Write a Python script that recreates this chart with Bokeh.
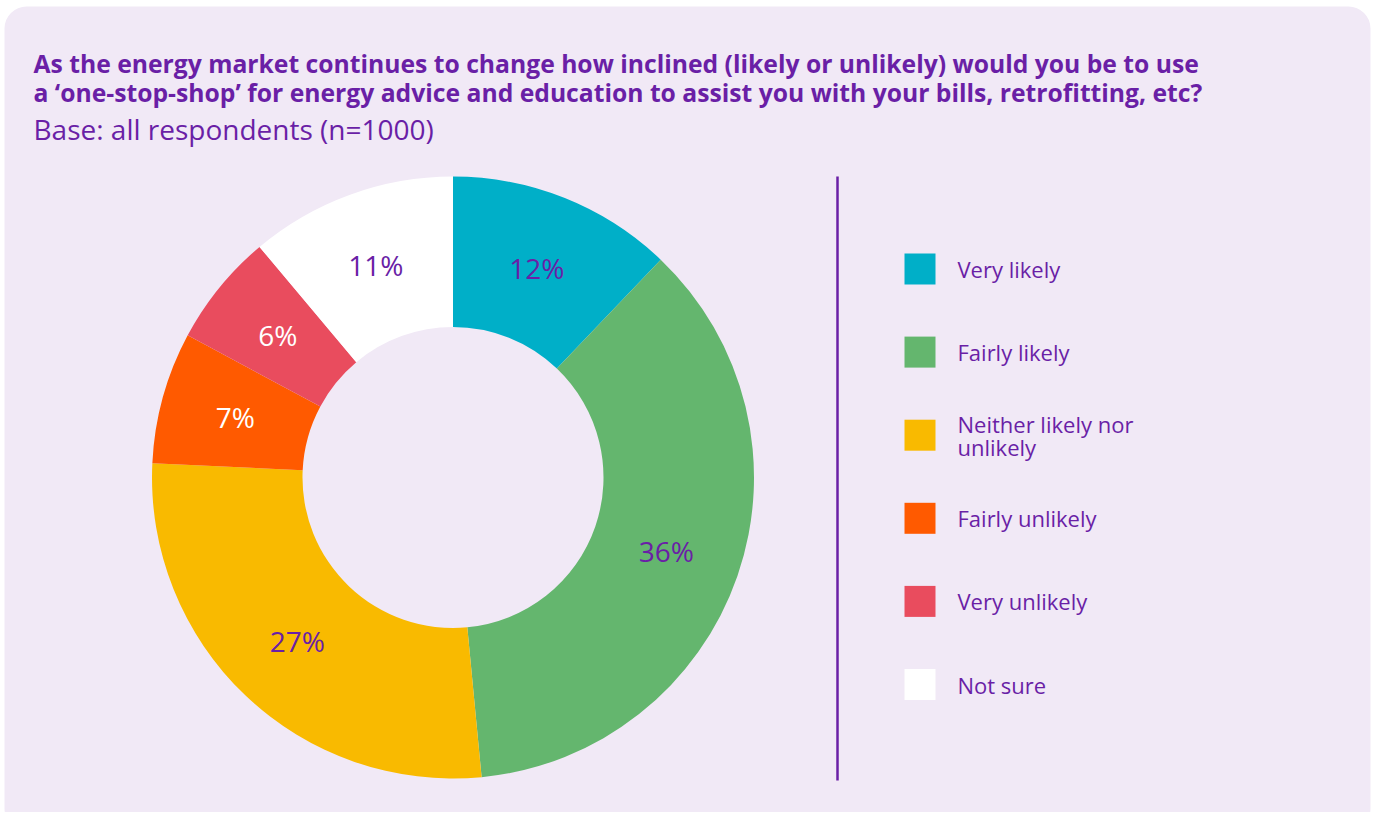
import math
from bokeh.plotting import figure
from bokeh.models import Range1d, BoxAnnotation, ColumnDataSource
from bokeh.core.properties import value
from bokeh.embed import file_html
from bokeh.resources import INLINE

# ---- data ----
categories = ["Very likely", "Fairly likely", "Neither likely nor\nunlikely",
              "Fairly unlikely", "Very unlikely", "Not sure"]
percents = [12, 36, 27, 7, 6, 11]
colors = ["#00AFC8", "#64B66E", "#F9BA00", "#FF5A00", "#E94C5E", "#FFFFFF"]
label_colors = ["#6A1FA6", "#6A1FA6", "#6A1FA6", "#FFFFFF", "#FFFFFF", "#6A1FA6"]

title_lines = [
    "As the energy market continues to change how inclined (likely or unlikely) would you be to use",
    "a \u2018one-stop-shop\u2019 for energy advice and education to assist you with your bills, retrofitting, etc?",
]
subtitle = "Base: all respondents (n=1000)"

PURPLE = "#6A1FA6"
PANEL = "#F1E9F6"
FONT = "Open Sans"

W, H = 1372, 812
p = figure(width=W, height=H, output_backend="svg", toolbar_location=None,
           x_range=Range1d(0, W), y_range=Range1d(0, H), min_border=0)
p.axis.visible = False
p.grid.visible = False
p.outline_line_color = None
p.background_fill_color = "#FFFFFF"
p.border_fill_color = "#FFFFFF"


def fy(v):
    return H - v


# rounded panel
p.add_layout(BoxAnnotation(left=4, right=1370, bottom=fy(830), top=fy(6),
                           fill_color=PANEL, fill_alpha=1.0, line_color=None,
                           border_radius=22, level="underlay"))

# ---- donut ----
cx, cy = 452.5, fy(477)
r_in, r_out = 150.5, 301
total = sum(percents)
starts, ends, mids = [], [], []
cum = 0.0
for v in percents:
    a0 = math.pi / 2 - 2 * math.pi * cum / total
    cum += v
    a1 = math.pi / 2 - 2 * math.pi * cum / total
    starts.append(a0)
    ends.append(a1)
    mids.append((a0 + a1) / 2)

src = ColumnDataSource(dict(start=starts, end=ends, color=colors))
p.annular_wedge(x=cx, y=cy, inner_radius=r_in, outer_radius=r_out,
                start_angle="start", end_angle="end", direction="clock",
                fill_color="color", line_color=None, source=src)

r_lab = (r_in + r_out) / 2
lab_src = ColumnDataSource(dict(
    x=[cx + r_lab * math.cos(m) for m in mids],
    y=[cy + r_lab * math.sin(m) for m in mids],
    t=[f"{v}%" for v in percents],
    c=label_colors,
))
p.text(x="x", y="y", text="t", text_color="c", source=lab_src,
       text_font=value(FONT), text_font_size="28px",
       text_align="center", text_baseline="middle")

# ---- separator line ----
p.segment(x0=837, y0=fy(780), x1=837, y1=fy(176), line_color=PURPLE, line_width=2.5)

# ---- legend ----
step = 83.1
ly = [fy(268.5 + i * step) for i in range(len(categories))]
leg_src = ColumnDataSource(dict(x=[919.5] * len(categories), y=ly,
                                color=colors, t=categories,
                                tx=[957] * len(categories)))
p.rect(x="x", y="y", width=31, height=31, fill_color="color",
       line_color=None, source=leg_src)
p.text(x="tx", y="y", text="t", source=leg_src, text_color=PURPLE,
       text_font=value(FONT), text_font_size="22px",
       text_align="left", text_baseline="middle", text_line_height=0.78)

# ---- titles ----
p.text(x=[33, 33], y=[fy(63), fy(92)], text=title_lines, text_color=PURPLE,
       text_font=value(FONT), text_font_size="24.7px", text_font_style="bold",
       text_align="left", text_baseline="alphabetic")
p.text(x=[33], y=[fy(128)], text=[subtitle], text_color=PURPLE,
       text_font=value(FONT), text_font_size="28px",
       text_align="left", text_baseline="alphabetic")

open("out.html", "w").write(file_html(p, INLINE))
